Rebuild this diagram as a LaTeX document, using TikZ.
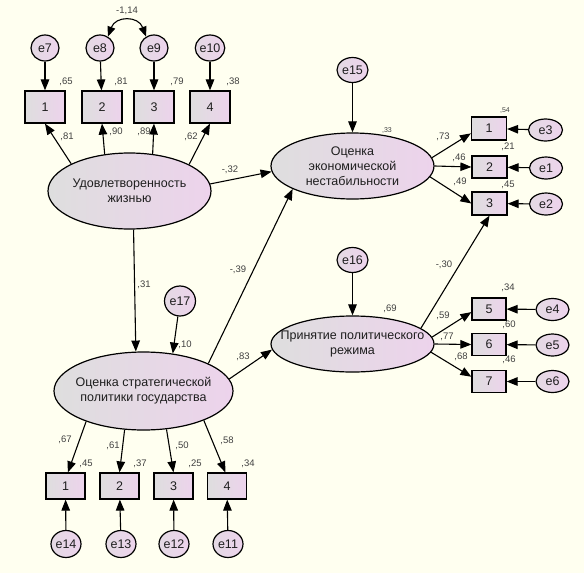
\documentclass[tikz,border=0pt]{standalone}
\usepackage{fontspec}
\setmainfont{Liberation Sans}
\usetikzlibrary{shapes.geometric,arrows.meta}
\definecolor{bg}{HTML}{FFFFF0}
\definecolor{cL}{HTML}{DEDEDE}
\definecolor{cR}{HTML}{EDD3EC}
\definecolor{txt}{HTML}{1E1E1E}
\tikzset{
  lat/.style={ellipse, draw, line width=1.2pt, left color=cL, right color=cR, inner sep=0pt},
  lattext/.style={inner sep=0pt, align=center, text=txt, font=\fontsize{12.5}{15}\selectfont},
  obs/.style={rectangle, draw, line width=1.2pt, left color=cL, right color=cR, inner sep=0pt, text=txt, font=\fontsize{12.5}{15}\selectfont},
  err/.style={ellipse, draw, line width=1.2pt, left color=cL!60!cR, right color=cR, inner sep=0pt, text=txt, font=\fontsize{12.5}{15}\selectfont},
  arr/.style={-{Triangle[length=11pt,width=8.5pt]}, line width=1.1pt},
  lab/.style={inner sep=0pt, text=txt!85, font=\fontsize{9.5}{11}\selectfont},
  slab/.style={inner sep=0pt, text=txt!85, font=\fontsize{7}{8}\selectfont}
}
\begin{document}
\begin{tikzpicture}[x=1pt,y=-1pt]
\fill[bg] (0,0) rectangle (584,573);
\useasboundingbox (0,0) rectangle (584,573);

% latent variables
\node[lat, minimum width=163pt, minimum height=76pt] (ud) at (129.5,191) {};
\node[lattext] (udt) at (ud.center) {Удовлетворенность\\жизнью};
\node[lat, minimum width=179pt, minimum height=78pt] (st) at (143.5,391) {};
\node[lattext] (stt) at (st.center) {Оценка стратегической\\политики государства};
\node[lat, minimum width=163pt, minimum height=66pt] (ec) at (352.5,166) {};
\node[lattext] (ect) at (ec.center) {Оценка\\экономической\\нестабильности};
\node[lat, minimum width=163pt, minimum height=56pt] (pr) at (352.5,344) {};
\node[lattext] (prt) at (pr.center) {Принятие политического\\режима};

% top indicators
\node[obs, minimum width=40pt, minimum height=32pt] (t1) at (45,107) {1};
\node[obs, minimum width=40pt, minimum height=32pt] (t2) at (102,107) {2};
\node[obs, minimum width=40pt, minimum height=32pt] (t3) at (154,107) {3};
\node[obs, minimum width=40pt, minimum height=32pt] (t4) at (210,107) {4};
\node[err, minimum width=28pt, minimum height=26pt] (e7) at (45,48) {e7};
\node[err, minimum width=28pt, minimum height=26pt] (e8) at (100,48) {e8};
\node[err, minimum width=28pt, minimum height=26pt] (e9) at (154,48) {e9};
\node[err, minimum width=28pt, minimum height=26pt] (e10) at (210,48) {e10};

% bottom indicators
\node[obs, minimum width=39pt, minimum height=26pt] (b1) at (65.5,486) {1};
\node[obs, minimum width=39pt, minimum height=26pt] (b2) at (119.5,486) {2};
\node[obs, minimum width=39pt, minimum height=26pt] (b3) at (173.5,486) {3};
\node[obs, minimum width=39pt, minimum height=26pt] (b4) at (227,486) {4};
\node[err, minimum width=30pt, minimum height=27pt] (e14) at (66,544) {e14};
\node[err, minimum width=30pt, minimum height=27pt] (e13) at (121,544) {e13};
\node[err, minimum width=30pt, minimum height=27pt] (e12) at (174,544) {e12};
\node[err, minimum width=30pt, minimum height=27pt] (e11) at (228,544) {e11};

% right indicators (economic)
\node[obs, minimum width=35pt, minimum height=23pt] (r1) at (489,128.5) {1};
\node[obs, minimum width=35pt, minimum height=22pt] (r2) at (489.5,167) {2};
\node[obs, minimum width=35pt, minimum height=23pt] (r3) at (489.5,203.5) {3};
\node[err, minimum width=34pt, minimum height=22pt] (e3) at (545.5,130) {e3};
\node[err, minimum width=33pt, minimum height=22pt] (e1) at (546,168) {e1};
\node[err, minimum width=33pt, minimum height=22pt] (e2) at (546,204) {e2};

% right indicators (political)
\node[obs, minimum width=34pt, minimum height=22pt] (r5) at (489,309) {5};
\node[obs, minimum width=34pt, minimum height=22pt] (r6) at (489,344.5) {6};
\node[obs, minimum width=34pt, minimum height=22pt] (r7) at (489,381.5) {7};
\node[err, minimum width=33pt, minimum height=22pt] (e4) at (552.5,309.5) {e4};
\node[err, minimum width=33pt, minimum height=22pt] (e5) at (552.5,345) {e5};
\node[err, minimum width=33pt, minimum height=22pt] (e6) at (552.5,381.5) {e6};

% structural errors
\node[err, minimum width=31pt, minimum height=25pt] (e15) at (352.5,70) {e15};
\node[err, minimum width=31pt, minimum height=25pt] (e16) at (352.5,260) {e16};
\node[err, minimum width=31pt, minimum height=30pt] (e17) at (180,301) {e17};

% arrows: top
\draw[arr] (e7) -- (t1);
\draw[arr] (e8) -- (t2);
\draw[arr] (e9) -- (t3);
\draw[arr] (e10) -- (t4);
\draw[arr] (ud.155.5) -- (t1.south);
\draw[arr] (ud.124) -- (t2.south);
\draw[arr] (ud.58) -- (t3.south);
\draw[arr] (ud.24) -- (t4.south);
\draw[{Triangle[length=10pt,width=8pt]}-{Triangle[length=10pt,width=8pt]}, line width=1.1pt]
  (e8.55) to[out=70,in=110,looseness=1.5] (e9.125);

% structural
\draw[arr] (ud.-84.7) -- (st.101);
\draw[arr] (e17) -- (st.52);
\draw[arr] (ud.5.6) -- (ec.184);
\draw[arr] (st.23) -- (ec.201);
\draw[arr] (st.8.4) -- (pr.184);
\draw[arr] (e15) -- (ec);
\draw[arr] (e16) -- (pr);

% bottom
\draw[arr] (st.208.5) -- (b1.80);
\draw[arr] (st.244) -- (b2.north);
\draw[arr] (st.301.6) -- (b3.north);
\draw[arr] (st.334.6) -- (b4.97);
\draw[arr] (e14) -- (b1);
\draw[arr] (e13) -- (b2);
\draw[arr] (e12) -- (b3);
\draw[arr] (e11) -- (b4);

% right econ
\draw[arr] (ec.6.6) -- (r1.195);
\draw[arr] (ec.east) -- (r2.west);
\draw[arr] (ec.-8) -- (r3.west);
\draw[arr] (e3) -- (r1);
\draw[arr] (e1) -- (r2);
\draw[arr] (e2) -- (r3);

% right political
\draw[arr] (pr.5.7) -- (r5.190);
\draw[arr] (pr.east) -- (r6.west);
\draw[arr] (pr.-6) -- (r7.165);
\draw[arr] (pr.13) -- (r3.south);
\draw[arr] (e4) -- (r5);
\draw[arr] (e5) -- (r6);
\draw[arr] (e6) -- (r7);

% labels
\node[lab] (lc) at (127,11) {-1,14};
\node[lab] (la1) at (66,82) {,65};
\node[lab] (la2) at (121,82) {,81};
\node[lab] (la3) at (177,82) {,79};
\node[lab] (la4) at (233,82) {,38};
\node[lab] (lb1) at (67,137) {,81};
\node[lab] (lb2) at (116,132) {,90};
\node[lab] (lb3) at (144,132) {,89};
\node[lab] (lb4) at (191,137) {,62};
\node[lab] (lud) at (230,170) {-,32};
\node[lab] (l31) at (144,285) {,31};
\node[lab] (l39) at (238,270) {-,39};
\node[lab] (l10) at (185,345) {,10};
\node[lab] (l83) at (243,357) {,83};
\node[lab] (lc1) at (65,440) {,67};
\node[lab] (lc2) at (113,446) {,61};
\node[lab] (lc3) at (182,446) {,50};
\node[lab] (lc4) at (227,441) {,58};
\node[lab] (ld1) at (86,464) {,45};
\node[lab] (ld2) at (140,464) {,37};
\node[lab] (ld3) at (195,464) {,25};
\node[lab] (ld4) at (248,464) {,34};
\node[slab] (l33) at (387,131) {,33};
\node[slab] (l54) at (505,111) {,54};
\node[lab] (l21) at (508,147) {,21};
\node[lab] (l45) at (508,185) {,45};
\node[lab] (l73) at (443,137) {,73};
\node[lab] (l46) at (459,158) {,46};
\node[lab] (l49) at (460,182) {,49};
\node[lab] (l69) at (390,309) {,69};
\node[lab] (l34) at (508,288) {,34};
\node[lab] (l60) at (509,325) {,60};
\node[lab] (l46b) at (509,360) {,46};
\node[lab] (l59) at (443,316) {,59};
\node[lab] (l77) at (447,337) {,77};
\node[lab] (l68) at (461,357) {,68};
\node[lab] (l30) at (444,265) {-,30};
\end{tikzpicture}
\end{document}
